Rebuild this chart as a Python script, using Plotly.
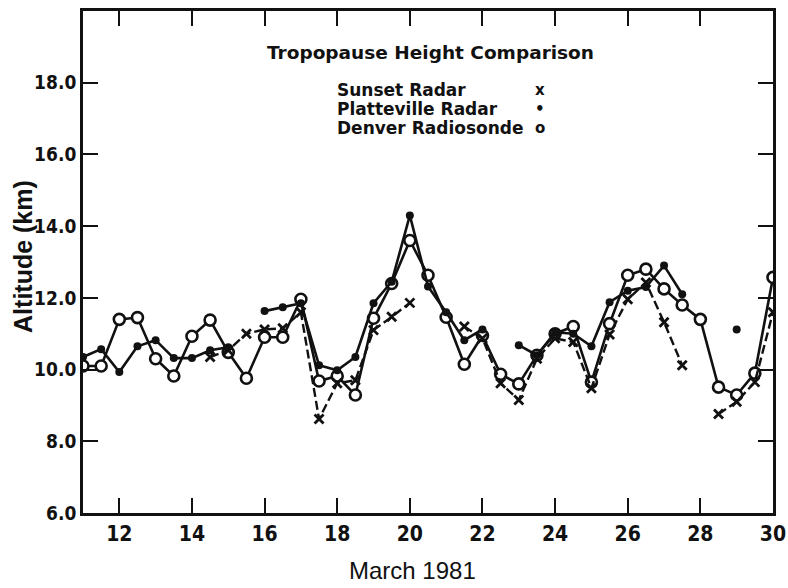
import plotly.graph_objects as go

# Observation times (day of March 1981, twice daily)
days = [11.0, 11.5, 12.0, 12.5, 13.0, 13.5, 14.0, 14.5, 15.0, 15.5,
        16.0, 16.5, 17.0, 17.5, 18.0, 18.5, 19.0, 19.5, 20.0, 20.5,
        21.0, 21.5, 22.0, 22.5, 23.0, 23.5, 24.0, 24.5, 25.0, 25.5,
        26.0, 26.5, 27.0, 27.5, 28.0, 28.5, 29.0, 29.5, 30.0]

# Tropopause heights (km); None marks missing observations
sunset_radar = [None, None, None, None, None, None, None, 10.35, 10.54, 11.0,
                11.12, 11.15, 11.6, 8.62, 9.62, 9.7, 11.1, 11.47, 11.86, None,
                None, 11.2, 10.87, 9.62, 9.15, 10.3, 10.87, 10.77, 9.48, 10.98,
                11.96, 12.43, 11.32, 10.12, None, 8.76, 9.1, 9.65, 11.6]

platteville_radar = [10.35, 10.57, 9.93, 10.65, 10.82, 10.32, 10.32, 10.54, 10.62, None,
                     11.63, 11.74, 11.85, 10.12, 9.98, 10.35, 11.85, 12.45, 14.3, 12.32,
                     11.6, 10.82, 11.12, None, 10.68, 10.4, 11.04, 11.0, 10.65, 11.88,
                     12.2, 12.3, 12.9, 12.1, None, None, 11.12, None, None]

denver_radiosonde = [10.1, 10.1, 11.4, 11.45, 10.3, 9.82, 10.93, 11.38, 10.48, 9.76,
                     10.9, 10.9, 11.96, 9.68, 9.82, 9.29, 11.43, 12.4, 13.6, 12.63,
                     11.46, 10.15, 10.95, 9.87, 9.6, 10.4, 11.0, 11.2, 9.65, 11.28,
                     12.63, 12.8, 12.25, 11.8, 11.4, 9.51, 9.29, 9.9, 12.57]

x_ticks = [12, 14, 16, 18, 20, 22, 24, 26, 28, 30]
y_ticks = [6, 8, 10, 12, 14, 16, 18]
y_tick_text = ["6.0", "8.0", "10.0", "12.0", "14.0", "16.0", "18.0"]

legend_labels = ["Sunset Radar", "Platteville Radar", "Denver Radiosonde"]
legend_symbols = ["x", "•", "o"]

INK = "#111111"
NARROW = "Liberation Sans Narrow, DejaVu Sans Condensed, sans-serif"
GEOM = "DejaVu Sans, Verdana, sans-serif"

fig = go.Figure()

fig.add_trace(go.Scatter(
    x=days, y=denver_radiosonde, mode="lines+markers", connectgaps=False,
    line=dict(color=INK, width=2.6),
    marker=dict(symbol="circle", size=11, color="white",
                line=dict(color=INK, width=2.6)),
    name=legend_labels[2], showlegend=False))

fig.add_trace(go.Scatter(
    x=days, y=platteville_radar, mode="lines+markers", connectgaps=False,
    line=dict(color=INK, width=2.6),
    marker=dict(symbol="circle", size=8, color=INK),
    name=legend_labels[1], showlegend=False))

fig.add_trace(go.Scatter(
    x=days, y=sunset_radar, mode="lines+markers", connectgaps=False,
    line=dict(color=INK, width=2.4, dash="9px,4px"),
    marker=dict(symbol="x-thin-open", size=9, color=INK,
                line=dict(color=INK, width=2.8)),
    name=legend_labels[0], showlegend=False))

axis_common = dict(showline=True, linecolor=INK, linewidth=2.8, mirror="ticks",
                   ticks="inside", ticklen=15, tickwidth=2.4, tickcolor=INK,
                   showgrid=False, zeroline=False, automargin=False)

fig.update_xaxes(range=[11, 30.0001], tickvals=x_ticks,
                 tickfont=dict(family=NARROW, size=21, color=INK, weight="bold"),
                 **axis_common)
fig.update_yaxes(range=[6, 20], tickvals=y_ticks, ticktext=y_tick_text,
                 tickfont=dict(family=NARROW, size=19, color=INK, weight="bold"),
                 **axis_common)

annotations = [
    dict(text="Tropopause Height Comparison", x=0.503, y=0.918, xref="paper", yref="paper",
         showarrow=False, xanchor="center", yanchor="middle",
         font=dict(family=GEOM, size=18.5, color=INK, weight="bold")),
    dict(text="March 1981", x=0.478, y=-0.1155, xref="paper", yref="paper",
         showarrow=False, xanchor="center", yanchor="middle",
         font=dict(family="Liberation Sans, Arial, sans-serif", size=24, color=INK)),
    dict(text="Altitude (km)", x=-0.087, y=0.512, xref="paper", yref="paper",
         showarrow=False, xanchor="center", yanchor="middle", textangle=-90,
         font=dict(family="Liberation Sans, Arial, sans-serif", size=25, color=INK,
                   weight="bold")),
]
legend_y = [0.843, 0.805, 0.767]
for label, sym, ly in zip(legend_labels, legend_symbols, legend_y):
    annotations.append(dict(text=label, x=0.365, y=ly, xref="paper", yref="paper",
                            showarrow=False, xanchor="left", yanchor="middle",
                            font=dict(family=GEOM, size=17, color=INK, weight="bold")))
    annotations.append(dict(text=sym, x=0.662, y=ly, xref="paper", yref="paper",
                            showarrow=False, xanchor="center", yanchor="middle",
                            font=dict(family=GEOM, size=15, color=INK, weight="bold")))

fig.update_layout(
    width=788, height=588,
    margin=dict(l=83, r=15, t=11, b=75),
    paper_bgcolor="white", plot_bgcolor="white",
    annotations=annotations,
    showlegend=False,
)

fig.write_html("out.html")
